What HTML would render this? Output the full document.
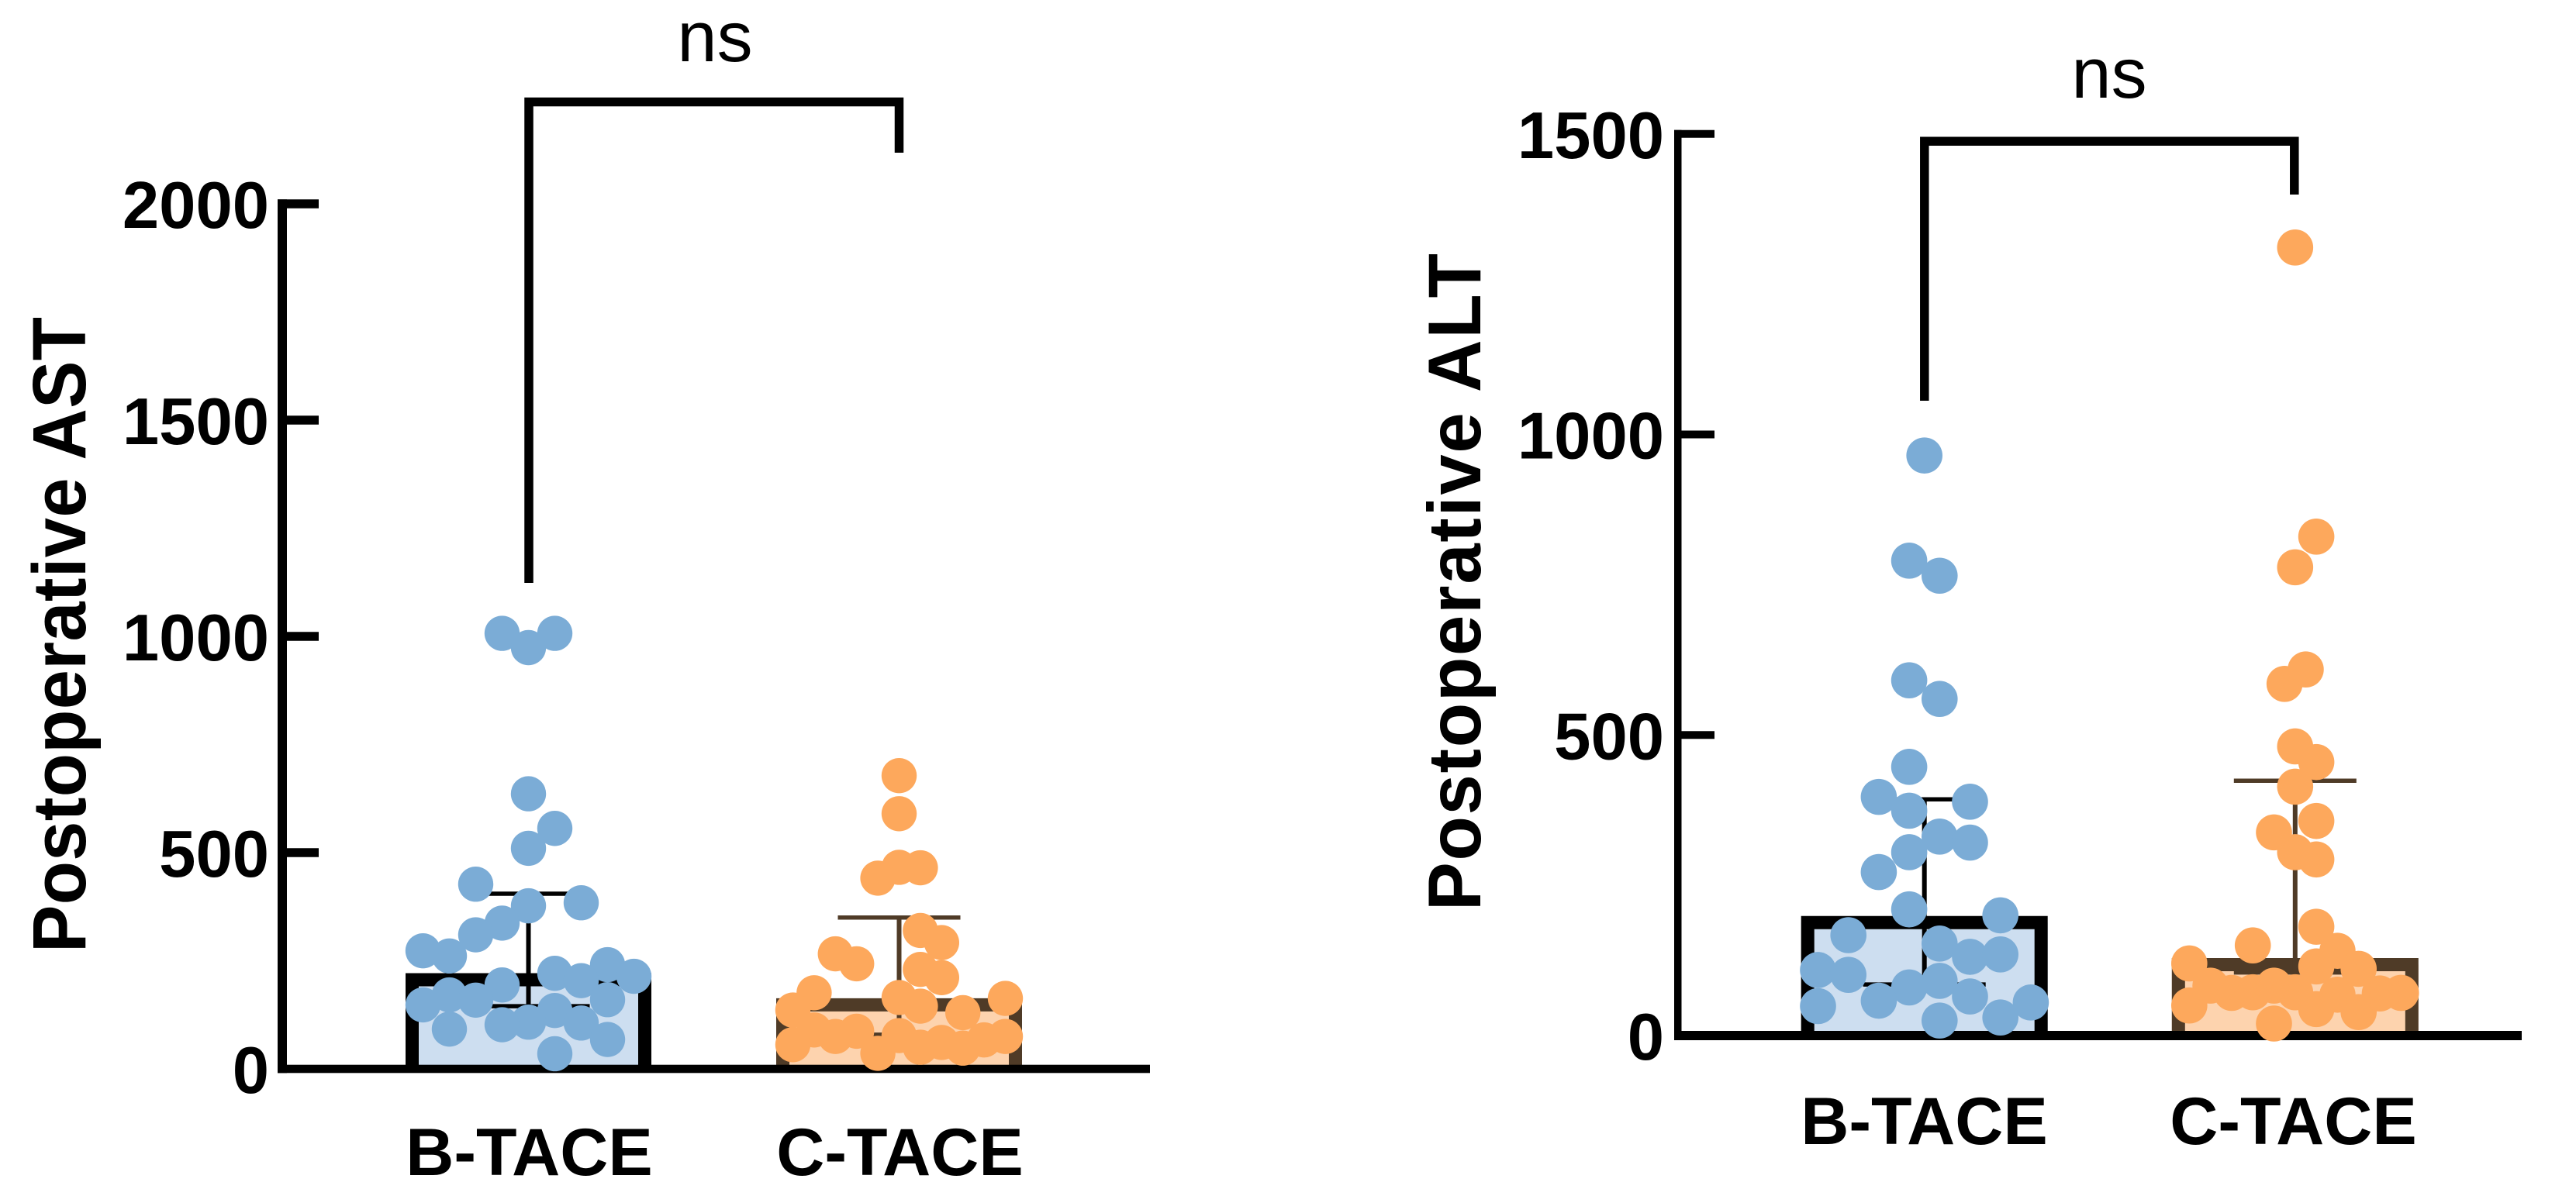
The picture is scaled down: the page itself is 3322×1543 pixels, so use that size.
<!DOCTYPE html>
<html lang="en">
<head>
<meta charset="utf-8">
<title>Postoperative AST and ALT</title>
<style>
html,body{margin:0;padding:0;background:#fff;width:3322px;height:1543px;overflow:hidden}
svg{display:block}
text{font-family:"Liberation Sans",Arial,sans-serif;fill:#000}
.tick-label,.cat-label,.axis-title{font-weight:700}
</style>
</head>
<body>
<svg id="figure" xmlns="http://www.w3.org/2000/svg" width="3322" height="1543" viewBox="0 0 3322 1543">
  <rect x="0" y="0" width="3322" height="1543" fill="#fff"/>
  <g id="chart-ast"></g>
  <g id="chart-alt"></g>
  <path d="M682 752V131.5H1159.5V197" fill="none" stroke="#000" stroke-width="11.5"/>
  <text x="922" y="79" font-size="92" text-anchor="middle">ns</text>
  <path d="M2481.8 517V182.3H2958.8V251" fill="none" stroke="#000" stroke-width="11.5"/>
  <text x="2720" y="126" font-size="92" text-anchor="middle">ns</text>
</svg>
<script>
// ---- Shared categories ----
const categories = ['B-TACE', 'C-TACE'];

// ---- Postoperative AST ----
const astTicks = [0, 500, 1000, 1500, 2000];
const astBars = [206, 148];
const astErrUpper = [405, 350];
const astErrLower = [145, 79];
const astBValues = [1007,1007,974,636,556,510,427,384,377,337,310,273,261,221,241,214,204,194,171,159,148,160,135,108,102,106,92,68,35];
const astBSwarm  = [-1,1,0,0,1,0,-2,2,0,-1,-2,-4,-3,1,3,4,2,-1,-3,-2,-4,3,1,0,-1,2,-3,3,1];
const astCValues = [678,590,465,466,441,320,292,266,243,230,211,176,165,145,136,163,130,90,75,87,56,36,77,50,61,48,67,75];
const astCSwarm  = [0,0,1,0,-1,1,2,-3,-2,1,2,-4,0,1,-5,5,3,-4,-3,-2,-5,-1,0,1,2,3,4,5];

// ---- Postoperative ALT ----
const altTicks = [0, 500, 1000, 1500];
const altBars = [188, 118];
const altErrUpper = [393, 424];
const altErrLower = [85, 105];
const altBValues = [965,790,765,591,560,447,397,374,389,331,321,305,272,210,200,167,153,131,135,109,101,80,91,58,65,49,55,30,25];
const altBSwarm  = [0,-0.5,0.5,-0.5,0.5,-0.5,-1.5,-0.5,1.5,0.5,1.5,-0.5,-1.5,-0.5,2.5,-2.5,0.5,1.5,2.5,-3.5,-2.5,-0.5,0.5,-1.5,1.5,-3.5,3.5,2.5,0.5];
const altCValues = [1311,830,779,609,585,481,455,414,357,338,305,293,181,150,141,120,115,111,83,71,72,83,72,68,44,39,70,71,50,20];
const altCSwarm  = [0,1,0,0.5,-0.5,0,1,0,1,-1,0,1,1,-2,2,-5,1,3,-4,-3,-2,-1,0,2,1,3,4,5,-5,-1];

const NS = 'http://www.w3.org/2000/svg';

function make(parent, tag, props) {
  const el = document.createElementNS(NS, tag);
  for (const k in props) el.setAttribute(k, props[k]);
  parent.appendChild(el);
  return el;
}

function drawChart(root, cfg) {
  const yOf = v => cfg.y0 - v * cfg.pxPerUnit;

  // bars and error bars sit below the axes and the dots
  cfg.groups.forEach(function (g, i) {
    const half = cfg.barWidth / 2;
    const sw = cfg.barStroke;
    const top = yOf(g.bar);
    const bottom = cfg.y0;

    const barFill = make(root, 'rect', {
      x: g.cx - half, y: top, width: cfg.barWidth, height: bottom - top, fill: g.fill
    });
    
    

    const barEdge = make(root, 'path', {
      d: 'M' + (g.cx - half + sw / 2) + ' ' + bottom + 'V' + top + 'H' + (g.cx + half - sw / 2) + 'V' + bottom,
      fill: 'none', stroke: g.edge, 'stroke-width': sw
    });
    
    

    const stem = make(root, 'line', {
      x1: g.cx, x2: g.cx, y1: yOf(g.upper), y2: yOf(g.lower),
      stroke: g.edge, 'stroke-width': 6
    });
    
    

    [g.upper, g.lower].forEach(function (val) {
      const cap = make(root, 'line', {
        x1: g.cx - 79, x2: g.cx + 79, y1: yOf(val), y2: yOf(val),
        stroke: g.edge, 'stroke-width': 5.5
      });
      
      
    });
  });

  // axes
  const yAxis = make(root, 'rect', {
    x: cfg.axisX, y: yOf(cfg.ticks[cfg.ticks.length - 1]) - cfg.tickW / 2,
    width: cfg.axisW, height: cfg.y0 - yOf(cfg.ticks[cfg.ticks.length - 1]) + cfg.tickW / 2 + cfg.xAxisW / 2,
    fill: '#000'
  });
  
  

  const xAxis = make(root, 'rect', {
    x: cfg.axisX, y: cfg.y0 - cfg.xAxisW / 2,
    width: cfg.xEnd - cfg.axisX, height: cfg.xAxisW, fill: '#000'
  });
  
  

  cfg.ticks.forEach(function (t) {
    if (t !== 0) {
      const mark = make(root, 'rect', {
        x: cfg.axisX, y: yOf(t) - cfg.tickW / 2,
        width: cfg.tickEnd - cfg.axisX, height: cfg.tickW, fill: '#000'
      });
      
      
    }
    const label = make(root, 'text', {
      class: 'tick-label', x: cfg.labelX, y: yOf(t) + 31, 'font-size': 85, 'text-anchor': 'end'
    });
    label.textContent = String(t);
    
    
  });

  // y axis title
  const title = make(root, 'text', {
    class: 'axis-title', 'font-size': cfg.titleSize, 'text-anchor': 'middle',
    textLength: cfg.titleLen, lengthAdjust: 'spacing',
    transform: 'translate(' + cfg.titleX + ' ' + cfg.titleY + ') rotate(-90) scale(1 ' + cfg.titleStretch + ')', x: 0, y: 0
  });
  title.textContent = cfg.title;
  
  

  // category labels and swarm dots
  cfg.groups.forEach(function (g, i) {
    const cat = make(root, 'text', {
      class: 'cat-label', x: g.labelCx, y: cfg.catY, 'font-size': 86, 'text-anchor': 'middle'
    });
    cat.textContent = categories[i];
    
    

    g.values.forEach(function (v, j) {
      const dot = make(root, 'circle', {
        cx: g.cx + g.swarm[j] * g.step, cy: yOf(v), r: cfg.dotR, fill: g.dot
      });
      
      
    });
  });
}

drawChart(document.getElementById('chart-ast'), {
  ticks: astTicks, y0: 1379, pxPerUnit: 0.558,
  axisX: 358, axisW: 12, xAxisW: 10.6, tickW: 11.5, tickEnd: 411, xEnd: 1483,
  labelX: 347, barWidth: 317, barStroke: 17, catY: 1516, dotR: 22.7,
  title: 'Postoperative AST', titleSize: 92, titleLen: 820, titleStretch: 1.06, titleX: 110, titleY: 819,
  groups: [
    { key: 'ast-b-tace', cx: 681.5, labelCx: 682.5, bar: astBars[0], upper: astErrUpper[0], lower: astErrLower[0],
      values: astBValues, swarm: astBSwarm, step: 34, fill: '#cddef0', edge: '#000', dot: '#7bacd6' },
    { key: 'ast-c-tace', cx: 1159.5, labelCx: 1160.5, bar: astBars[1], upper: astErrUpper[1], lower: astErrLower[1],
      values: astCValues, swarm: astCSwarm, step: 27.4, fill: '#fdd3ae', edge: '#4f3b27', dot: '#fda85c' }
  ]
});

drawChart(document.getElementById('chart-alt'), {
  ticks: altTicks, y0: 1336, pxPerUnit: 0.7755,
  axisX: 2159, axisW: 9.5, xAxisW: 12, tickW: 10, tickEnd: 2211, xEnd: 3252,
  labelX: 2146, barWidth: 318, barStroke: 17, catY: 1476, dotR: 23.3,
  title: 'Postoperative ALT', titleSize: 94, titleLen: 848, titleStretch: 1.03, titleX: 1909, titleY: 751,
  groups: [
    { key: 'alt-b-tace', cx: 2481.7, labelCx: 2481.5, bar: altBars[0], upper: altErrUpper[0], lower: altErrLower[0],
      values: altBValues, swarm: altBSwarm, step: 39.2, fill: '#cddef0', edge: '#000', dot: '#7bacd6' },
    { key: 'alt-c-tace', cx: 2959.8, labelCx: 2957.5, bar: altBars[1], upper: altErrUpper[1], lower: altErrLower[1],
      values: altCValues, swarm: altCSwarm, step: 27.3, fill: '#fdd3ae', edge: '#4f3b27', dot: '#fda85c' }
  ]
});
</script>
</body>
</html>
